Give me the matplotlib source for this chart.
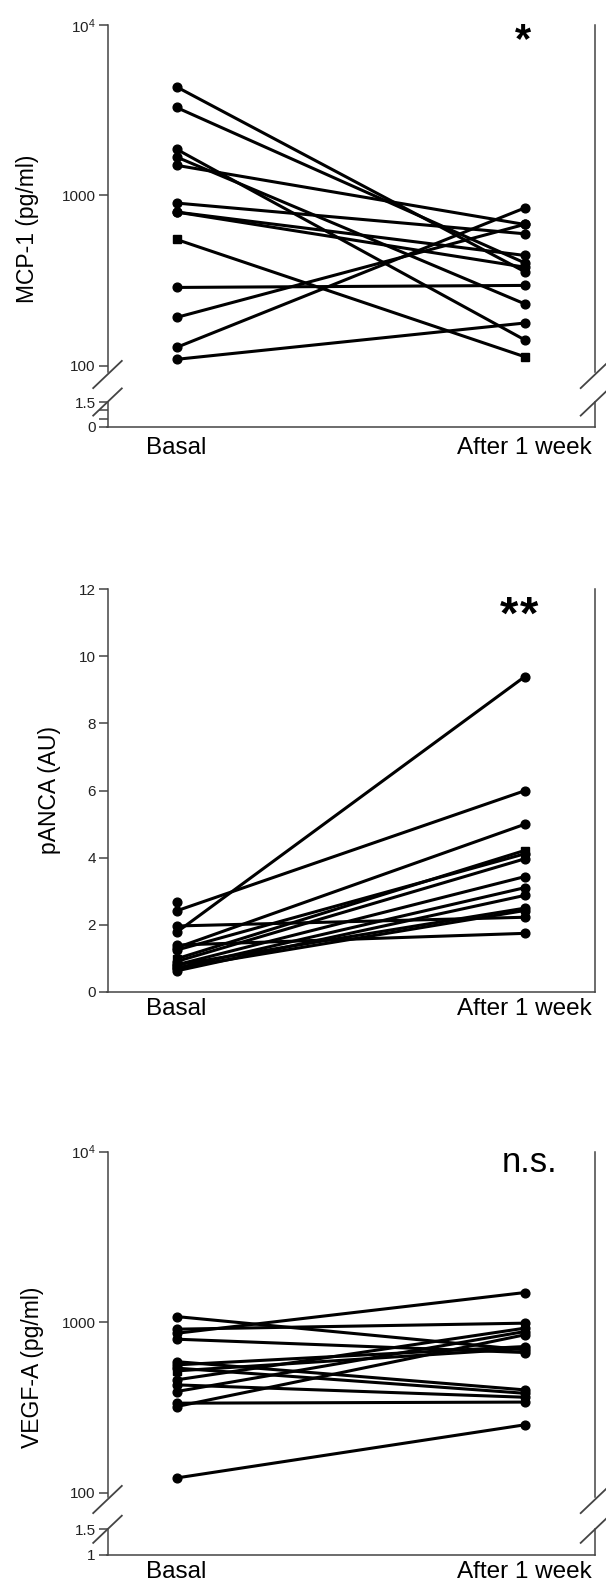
'''
paired before/after plots: MCP-1, pANCA, VEGF-A
'''
import numpy as np
import matplotlib
matplotlib.use('Agg')
import matplotlib.pyplot as plt
from matplotlib.lines import Line2D
from matplotlib.ticker import NullLocator

plt.rcParams['font.family'] = ['Liberation Sans', 'DejaVu Sans']
plt.rcParams['mathtext.fontset'] = 'custom'
plt.rcParams['mathtext.rm'] = 'Liberation Sans'

groups = ['Basal', 'After 1 week']

# MCP-1 (pg/ml), one entry per subject
mcp1_basal = [4335, 3280, 1866, 1680, 1501, 901, 798, 798, 551, 288, 192, 128, 109]
mcp1_after = [357, 402, 142, 231, 675, 595, 444, 379, 113, 296, 675, 842, 178]
mcp1_square = 8

# pANCA (AU)
panca_basal = [2.41, 1.77, 1.96, 1.39, 1.31, 0.98, 1.24, 0.90, 0.80, 0.70, 0.62, 0.80, 0.70, 2.68]
panca_after = [5.99, 9.39, 2.22, 1.74, 4.99, 4.21, 4.11, 3.96, 3.43, 3.10, 2.87, 2.49, 2.42, np.nan]
panca_square = 5

# VEGF-A (pg/ml)
vegf_basal = [1079, 910, 861, 795, 587, 562, 538, 518, 459, 429, 392, 335, 320, 122]
vegf_after = [689, 987, 1492, 664, 401, 720, 383, 700, 922, 363, 881, 340, 843, 250]
vegf_square = 7

W, H = 606, 1586
fig = plt.figure(figsize=(W / 100, H / 100), dpi=100)

GREY = '#444444'
X_LEFT, X_RIGHT = 107.5, 595.0     # spines, px
X_BASAL, X_AFTER = 176.5, 524.5    # data columns, px
unit = X_AFTER - X_BASAL
XLIM = ((X_LEFT - X_BASAL) / unit, 1 + (X_RIGHT - X_AFTER) / unit)


def px_axes(top, bottom):
    return fig.add_axes([X_LEFT / W, 1 - bottom / H, (X_RIGHT - X_LEFT) / W, (bottom - top) / H])


def style(ax, show_bottom, xpad=5.5):
    for s in ['left', 'right', 'bottom', 'top']:
        ax.spines[s].set_color(GREY)
        ax.spines[s].set_linewidth(1.1)
    ax.spines['top'].set_visible(False)
    ax.spines['bottom'].set_visible(show_bottom)
    ax.set_xlim(*XLIM)
    ax.tick_params(axis='y', direction='out', length=6.5, width=1.1, color=GREY,
                   labelsize=11, labelcolor='#222222', pad=2)
    ax.yaxis.set_minor_locator(NullLocator())
    if show_bottom:
        ax.set_xticks([0, 1])
        ax.set_xticklabels(groups, fontsize=17.5)
        ax.tick_params(axis='x', length=0, pad=xpad)
    else:
        ax.set_xticks([])
    ax.patch.set_alpha(0)


def draw_pairs(ax, basal, after, square):
    for i, (b, a) in enumerate(zip(basal, after)):
        ax.plot([0, 1], [b, a], color='k', lw=2.2, marker='s' if i == square else 'o',
                ms=6.3, clip_on=False, zorder=3)


def break_mark(xc, yc):
    dx, dy = 14.3, 13.6
    fig.add_artist(Line2D([(xc - dx) / W, (xc + dx) / W], [1 - (yc + dy) / H, 1 - (yc - dy) / H],
                          color=GREY, lw=1.3))


def log_panel(top, y100, up_bottom, low_top, low_bottom, low_lim, low_ticks, low_labels,
              low_minor, basal, after, square, ylabel, label_x, label_y, xpad):
    pxdec = (y100 - top) / 2.0
    ax = px_axes(top, up_bottom)
    style(ax, False)
    ax.set_yscale('log')
    ax.set_ylim(10 ** (2 - (up_bottom - y100) / pxdec), 1e4)
    ax.set_yticks([100, 1000, 10000])
    ax.set_yticklabels(['100', '1000', r'$\mathregular{10^4}$'])
    ax.yaxis.set_minor_locator(NullLocator())
    draw_pairs(ax, basal, after, square)
    ax.set_ylabel(ylabel, fontsize=16.5, va='center')
    ax.yaxis.set_label_coords((label_x - X_LEFT) / (X_RIGHT - X_LEFT),
                              1 - (label_y - top) / (up_bottom - top))

    low = px_axes(low_top, low_bottom)
    style(low, True, xpad)
    low.set_ylim(*low_lim)
    low.set_yticks(low_ticks)
    low.set_yticklabels(low_labels)
    if low_minor:
        low.set_yticks(low_minor, minor=True)
        low.tick_params(axis='y', which='minor', direction='out', length=6.5, width=1.1, color=GREY)

    for xc in (X_LEFT, X_RIGHT):
        break_mark(xc, up_bottom + 2.5)
        break_mark(xc, low_top)


def label(x, y, s, size, bold):
    fig.text(x / W, 1 - y / H, s, fontsize=size, fontweight='bold' if bold else 'normal',
             ha='center', va='baseline')


# MCP-1
log_panel(25, 365.7, 372, 402, 427, (0, 1.5), [0, 1.5], ['0', '1.5'], [0.5, 1.0],
          mcp1_basal, mcp1_after, mcp1_square, 'MCP-1 (pg/ml)', 28, 229, 7)
label(523, 51.7, '*', 30, True)

# pANCA
ax = px_axes(589.3, 991.7)
style(ax, True, 4.5)
ax.set_ylim(0, 12)
ax.set_yticks(np.arange(0, 13, 2))
draw_pairs(ax, panca_basal, panca_after, panca_square)
ax.set_ylabel('pANCA (AU)', fontsize=16.5, va='center')
ax.yaxis.set_label_coords((49.5 - X_LEFT) / (X_RIGHT - X_LEFT), 1 - (790 - 589.3) / (991.7 - 589.3))
label(509, 629, '*', 34, True)
label(529, 629, '*', 34, True)

# VEGF-A
log_panel(1151.7, 1492.7, 1497, 1529.3, 1555, (1, 1.5), [1, 1.5], ['1', '1.5'], None,
          vegf_basal, vegf_after, vegf_square, 'VEGF-A (pg/ml)', 33, 1367.5, 4.5)
label(530, 1172, 'n.s.', 25, False)

fig.savefig('out.png', dpi=100)
